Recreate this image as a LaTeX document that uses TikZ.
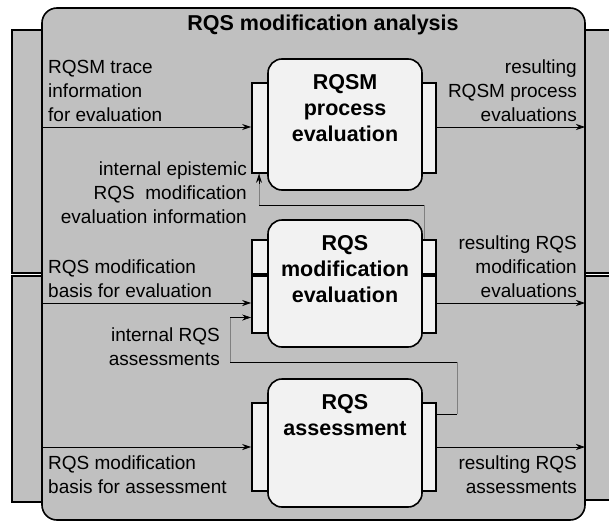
\documentclass[tikz,border=0pt]{standalone}
\usepackage{fontspec}
\setmainfont{Liberation Sans}
\usetikzlibrary{positioning,arrows.meta}

\definecolor{panelgray}{RGB}{192,192,192}
\definecolor{boxgray}{RGB}{242,242,242}

\tikzset{
  panel/.style={draw, fill=panelgray, line width=1.6pt},
  frame/.style={draw, fill=panelgray, line width=1.6pt, rounded corners=15pt},
  process/.style={draw, fill=boxgray, line width=1.6pt, rounded corners=14pt,
    minimum width=154pt, inner sep=0pt},
  tab/.style={draw, fill=boxgray, line width=1.6pt, inner sep=0pt},
  boxtitle/.style={font=\fontsize{21.5}{26}\selectfont\bfseries, align=center, inner sep=0pt},
  lbl/.style={font=\fontsize{19}{24}\selectfont, inner sep=0pt},
  flow/.style={-{Stealth[length=9pt,width=6pt]}, line width=0.7pt},
  back/.style={line width=0.7pt},
  faint/.style={draw=black!50, line width=0.4pt}
}

\begin{document}
\begin{tikzpicture}[x=1pt, y=-1pt]

\clip (0,0) rectangle (609,522);

% Panels behind the frame
\draw[panel] (12,30) rectangle (60,273);
\draw[panel] (12,276) rectangle (60,502);
\draw[panel] (570,30) rectangle (630,273);
\draw[panel] (570,276) rectangle (630,500);

% Frame
\draw[frame] (42,8) rectangle (585,520);
\node[boxtitle] (title) at (323,25) {RQS modification analysis};

% Tabs
\node[tab, minimum width=30pt, minimum height=90pt] (tabAl) at (267,128) {};
\node[tab, minimum width=30pt, minimum height=90pt] (tabAr) at (421,128) {};
\node[tab, minimum width=30pt, minimum height=34pt] (tabBlu) at (267,257) {};
\node[tab, minimum width=30pt, minimum height=57pt] (tabBll) at (267,304.5) {};
\node[tab, minimum width=30pt, minimum height=34pt] (tabBru) at (421,257) {};
\node[tab, minimum width=30pt, minimum height=57pt] (tabBrl) at (421,304.5) {};
\node[tab, minimum width=30pt, minimum height=88pt] (tabCl) at (267,447) {};
\node[tab, minimum width=30pt, minimum height=88pt] (tabCr) at (421,447) {};

% Process boxes
\node[process, minimum height=131pt] (evalrqsm) at (345,124.5) {};
\node[process, minimum height=127pt] (evalrqs) at (345,283.5) {};
\node[process, minimum height=128pt] (assessrqs) at (345,443) {};

\node[boxtitle, below=16pt of evalrqsm.north] (evalrqsmtxt) {RQSM\\process\\evaluation};
\node[boxtitle, below=16pt of evalrqs.north] (evalrqstxt) {RQS\\modification\\evaluation};
\node[boxtitle, below=16pt of assessrqs.north] (assessrqstxt) {RQS\\assessment};

% Inputs and outputs
\coordinate (inA) at (42,127);
\coordinate (inB) at (42,303);
\coordinate (inC) at (42,447);
\coordinate (outA) at (585,127);
\coordinate (outB) at (585,303);
\coordinate (outC) at (585,447);

\draw[flow] (inA) -- (inA -| tabAl.west);
\draw[flow] (inB) -- (inB -| tabBll.west);
\draw[flow] (inC) -- (inC -| tabCl.west);
\draw[flow] (outA -| tabAr.east) -- (outA);
\draw[flow] (outB -| tabBrl.east) -- (outB);
\draw[flow] (outC -| tabCr.east) -- (outC);

\node[lbl, align=left, above right=5pt and 6pt of inA] (inAlbl) {RQSM trace\\information\\for evaluation};
\node[lbl, align=left, above right=5pt and 6pt of inB] (inBlbl) {RQS modification\\basis for evaluation};
\node[lbl, align=left, below right=9pt and 6pt of inC] (inClbl) {RQS modification\\basis for assessment};
\node[lbl, align=right, above left=5pt and 8pt of outA] (outAlbl) {resulting\\RQSM process\\evaluations};
\node[lbl, align=right, above left=5pt and 8pt of outB] (outBlbl) {resulting RQS\\modification\\evaluations};
\node[lbl, align=right, below left=9pt and 8pt of outC] (outClbl) {resulting RQS\\assessments};

% Internal feedback
\coordinate (fbA) at (259,205);
\coordinate (fbAr) at (424,205);
\coordinate (fbAin) at (fbA |- tabAl.south);
\coordinate (fbB) at (230,362);
\coordinate (fbBr) at (457,362);
\draw[faint] (fbAr |- tabBru.north) -- (fbAr);
\draw[back] (fbAr) -- (fbA);
\draw[faint] (fbA) -- (fbAin);
\draw[flow] ([yshift=-10pt]fbAin) -- (fbAin);
\draw[back] (fbBr |- tabCr.north) ++(0,12) coordinate (fbBt) -- (fbBt -| tabCr.east);
\draw[faint] (fbBt) -- (fbBr);
\draw[back] (fbBr) -- (fbB);
\coordinate (fbBin) at ([yshift=-13pt]tabBll.east -| tabBll.west);
\draw[faint] (fbB) -- (fbB |- fbBin);
\draw[flow] (fbB |- fbBin) -- (fbBin);

\node[lbl, align=right, anchor=east] (fbAlbl) at (247,193) {internal epistemic\\RQS~~modification\\evaluation information};
\node[lbl, align=right, anchor=east] (fbBlbl) at (220,347) {internal RQS\\assessments};

\end{tikzpicture}
\end{document}
